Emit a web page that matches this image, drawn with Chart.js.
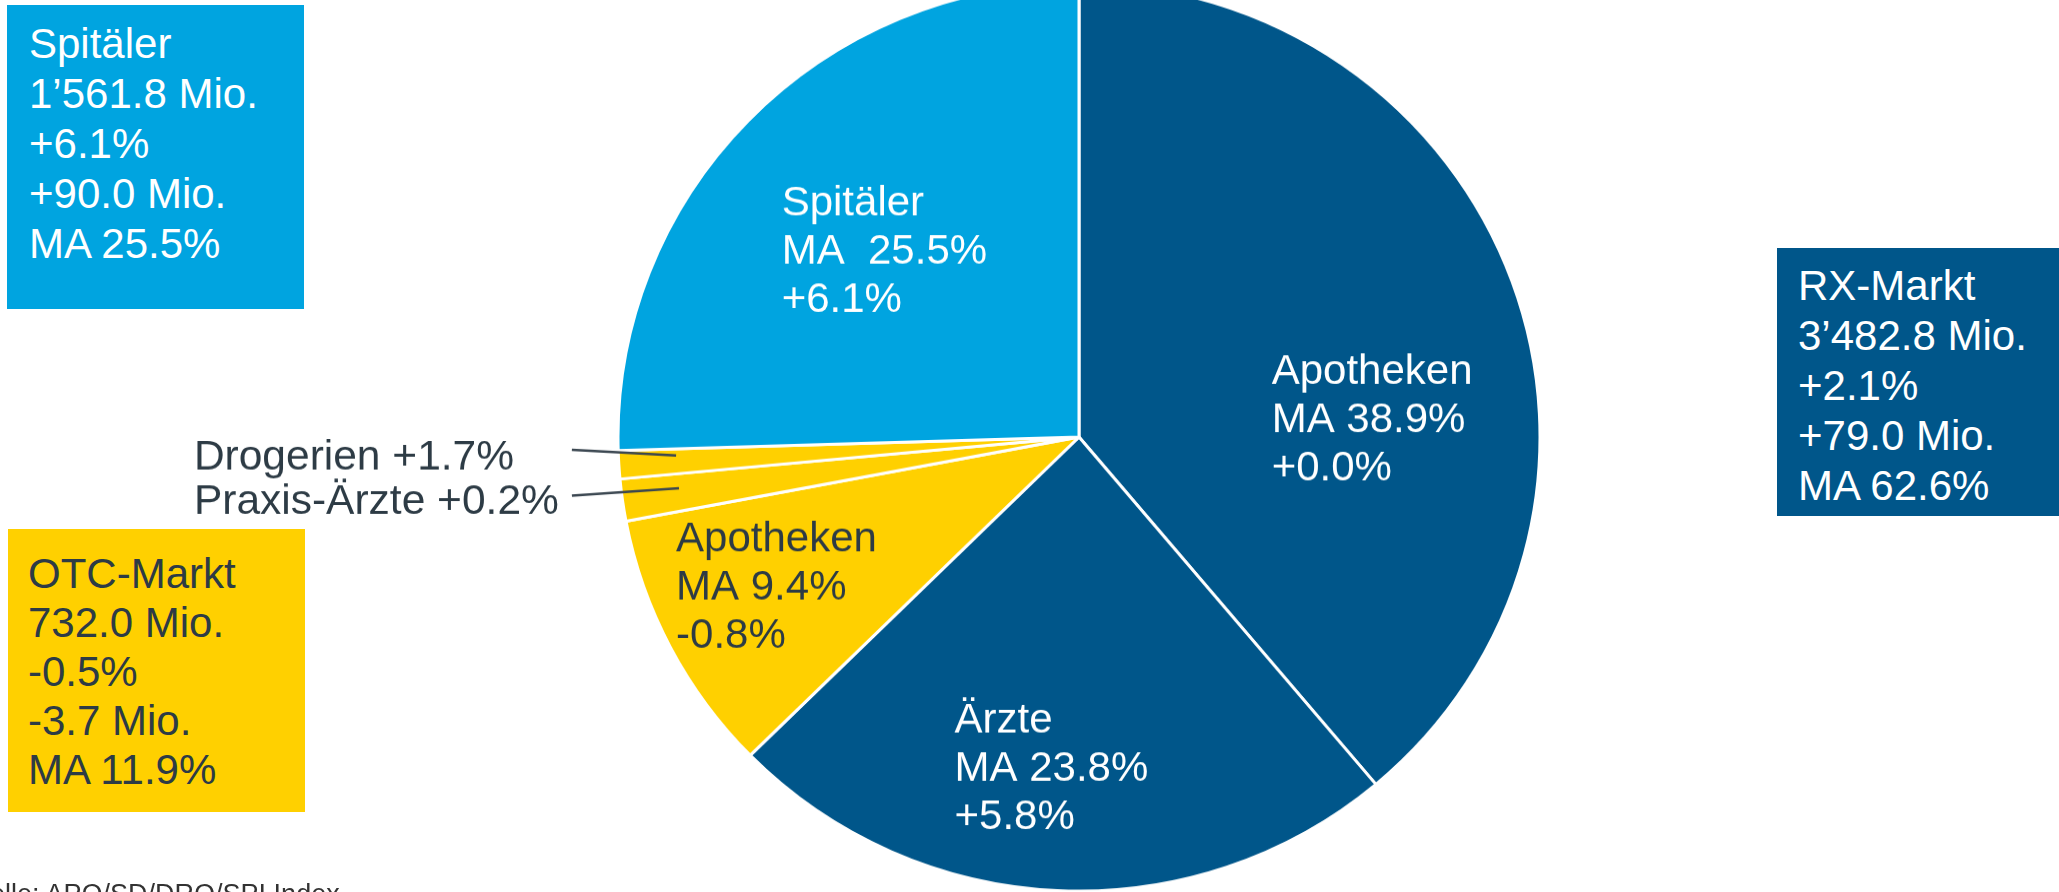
<!DOCTYPE html>
<html>
<head>
<meta charset="utf-8">
<script src="https://cdn.jsdelivr.net/npm/chart.js@4.4.1/dist/chart.umd.min.js"></script>
<style>
  html, body { margin: 0; padding: 0; background: #fff; }
  body { width: 2059px; height: 892px; overflow: hidden; position: relative; font-family: "Liberation Sans", Arial, sans-serif; }
  /* the source image is very slightly squashed vertically */
  #pie { position: absolute; left: 0; top: -23px; transform-origin: 50% 460px; transform: scaleY(0.985); }
  .box { position: absolute; box-sizing: border-box; font-size: 42px; white-space: nowrap; }
  #box0 { left: 7px; top: 5px; width: 297px; height: 304px; padding: 14px 0 0 22px; line-height: 50px; background: #00a4e0; color: #fff; }
  #box1 { left: 1777px; top: 248px; width: 282px; height: 268px; padding: 12.5px 0 0 21px; line-height: 50px; background: #00568a; color: #fff; }
  #box2 { left: 8px; top: 529px; width: 297px; height: 283px; padding: 20px 0 0 20px; line-height: 49px; background: #ffd000; color: #2d3b45; }
  #source { position: absolute; left: -46px; top: 879px; font-size: 27px; color: #333; white-space: nowrap; }
</style>
</head>
<body>
<div class="box" id="box0"></div>
<div class="box" id="box1"></div>
<div class="box" id="box2"></div>
<canvas id="pie" width="2059" height="920"></canvas>
<div id="source">Quelle: APO/SD/DRO/SPI Index</div>
<script>
// slices, clockwise from 12 o'clock
var sliceNames = ['Apotheken', 'Ärzte', 'Apotheken', 'Praxis-Ärzte', 'Drogerien', 'Spitäler'];
var sliceShares = [38.9, 23.8, 9.4, 1.5, 1.0, 25.5];
var sliceGrowth = [0.0, 5.8, -0.8, 0.2, 1.7, 6.1];
var sliceColors = ['#00568a', '#00568a', '#ffd000', '#ffd000', '#ffd000', '#00a4e0'];

// market summary boxes
var marketNames = ['Spitäler', 'RX-Markt', 'OTC-Markt'];
var marketVolume = [1561.8, 3482.8, 732.0];
var marketGrowth = [6.1, 2.1, -0.5];
var marketDelta = [90.0, 79.0, -3.7];
var marketShare = [25.5, 62.6, 11.9];

function fmtNum(v) {
  var s = Math.abs(v).toFixed(1);
  var parts = s.split('.');
  parts[0] = parts[0].replace(/\B(?=(\d{3})+(?!\d))/g, '\u2019');
  return (v < 0 ? '-' : '') + parts.join('.');
}
function fmtSigned(v) {
  return (v < 0 ? '' : '+') + fmtNum(v);
}

marketNames.forEach(function (name, i) {
  var el = document.getElementById('box' + i);
  el.innerHTML = [
    name,
    fmtNum(marketVolume[i]) + ' Mio.',
    fmtSigned(marketGrowth[i]) + '%',
    fmtSigned(marketDelta[i]) + ' Mio.',
    'MA ' + fmtNum(marketShare[i]) + '%'
  ].join('<br>');
});

// label layout, in units of the pie radius from its centre (left edge, first baseline)
var insideSlices = [0, 1, 2, 5];
var insidePos = { 0: [0.418, -0.118], 1: [-0.270, 0.650], 2: [-0.874, 0.252], 5: [-0.645, -0.489] };
var maPrefix = { 5: 'MA  ' };  // the Spitäler label has a double space
var outsideSlices = [4, 3];
var outsideTextY = { 4: 0.071, 3: 0.170 };
var leaderStartY = { 4: 0.028, 3: 0.129 };
var leaderEndAt = { 4: 0.73, 3: 0.61 };  // fraction along the slice's sweep

var sliceLabels = {
  id: 'sliceLabels',
  afterDatasetsDraw: function (chart) {
    var ctx = chart.ctx;
    var arcs = chart.getDatasetMeta(0).data;
    var cx = arcs[0].x, cy = arcs[0].y, r = arcs[0].outerRadius;
    ctx.save();
    ctx.font = '42px "Liberation Sans", Arial, sans-serif';
    ctx.textAlign = 'left';
    ctx.textBaseline = 'alphabetic';
    insideSlices.forEach(function (i) {
      var lines = [sliceNames[i], (maPrefix[i] || 'MA ') + fmtNum(sliceShares[i]) + '%', fmtSigned(sliceGrowth[i]) + '%'];
      var x = cx + insidePos[i][0] * r;
      var y = cy + insidePos[i][1] * r;
      ctx.fillStyle = sliceColors[i] === '#ffd000' ? '#2d3b45' : '#ffffff';
      lines.forEach(function (t, k) { ctx.fillText(t, x, y + k * 49); });
    });
    ctx.font = '42.5px "Liberation Sans", Arial, sans-serif';
    outsideSlices.forEach(function (i) {
      var a = arcs[i];
      var ang = a.startAngle + (a.endAngle - a.startAngle) * leaderEndAt[i];
      var ex = cx + Math.cos(ang) * r * 0.875;
      var ey = cy + Math.sin(ang) * r * 0.875;
      ctx.strokeStyle = '#3a4650';
      ctx.lineWidth = 2.5;
      ctx.beginPath();
      ctx.moveTo(cx - 1.10 * r, cy + leaderStartY[i] * r);
      ctx.lineTo(ex, ey);
      ctx.stroke();
      ctx.fillStyle = '#2d3b45';
      ctx.fillText(sliceNames[i] + ' ' + fmtSigned(sliceGrowth[i]) + '%', cx - 1.92 * r, cy + outsideTextY[i] * r);
    });
    ctx.restore();
  }
};

new Chart(document.getElementById('pie').getContext('2d'), {
  type: 'pie',
  data: {
    labels: sliceNames,
    datasets: [{
      data: sliceShares,
      backgroundColor: sliceColors,
      borderColor: '#ffffff',
      borderWidth: 3
    }]
  },
  options: {
    responsive: false,
    animation: false,
    radius: 461,
    layout: { padding: { left: 99 } },
    plugins: { legend: { display: false }, tooltip: { enabled: false }, title: { display: false } }
  },
  plugins: [sliceLabels]
});
</script>
</body>
</html>
